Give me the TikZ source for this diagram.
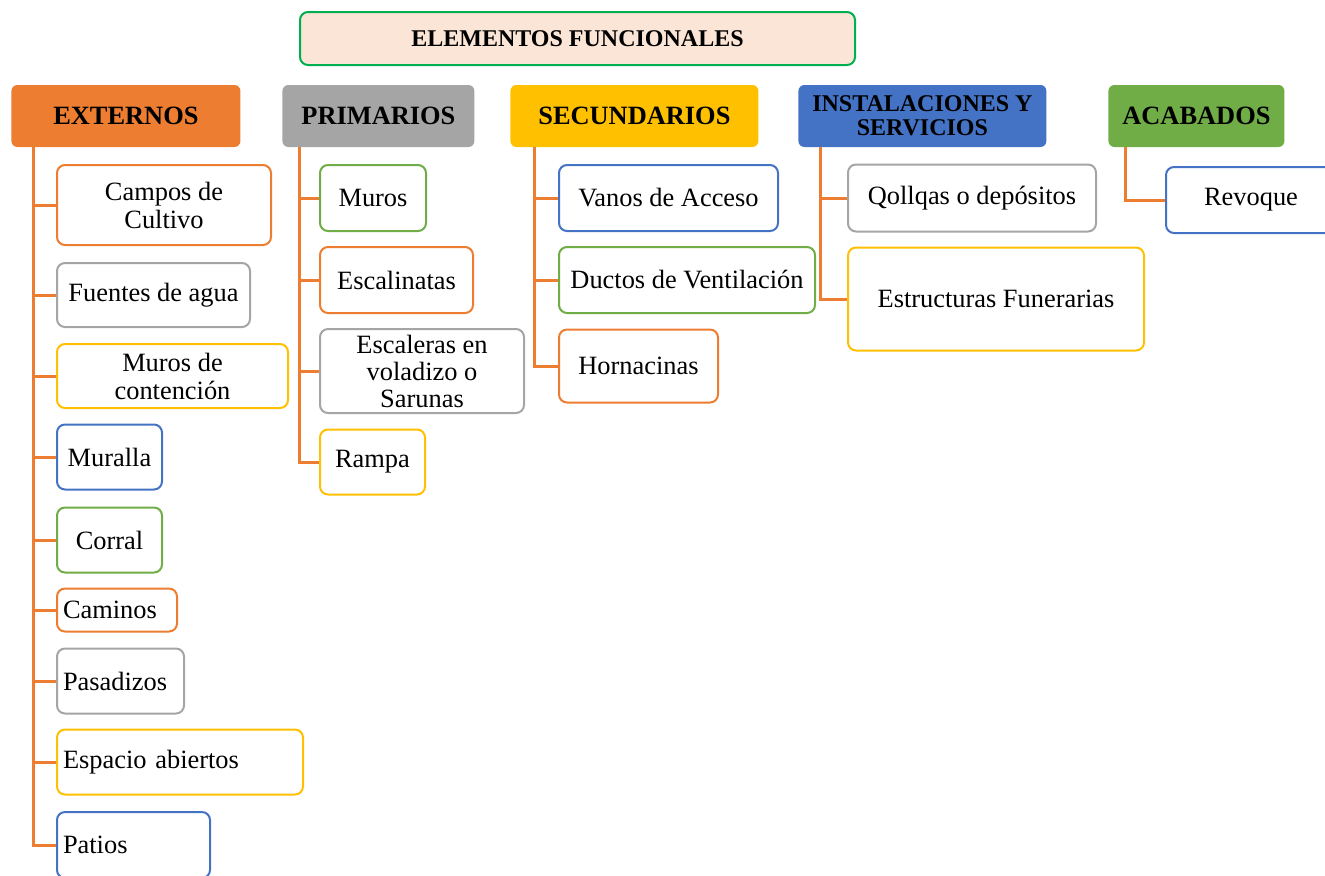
\documentclass[tikz,border=0pt]{standalone}
\usepackage{fontspec}
\setmainfont{Liberation Serif}
\usetikzlibrary{calc}

\definecolor{naranja}{HTML}{ED7D31}
\definecolor{gris}{HTML}{A5A5A5}
\definecolor{amarillo}{HTML}{FFC000}
\definecolor{azul}{HTML}{4472C4}
\definecolor{verde}{HTML}{70AD47}
\definecolor{verdetit}{HTML}{00B050}
\definecolor{durazno}{HTML}{FBE5D6}

\tikzset{
  cabeza/.style={fill=#1, rounded corners=3pt, minimum height=31pt, anchor=west,
    font=\bfseries\fontsize{13.2}{14}\selectfont, align=center, inner sep=2pt},
  hoja/.style={draw=#1, line width=1pt, rounded corners=4pt, fill=white, anchor=west,
    font=\fontsize{13.2}{14}\selectfont, align=center, inner xsep=3pt, inner ysep=2pt},
  hojaizq/.style={hoja=#1, align=left},
  rama/.style={draw=naranja, line width=1.5pt},
}

\begin{document}
\begin{tikzpicture}[x=1pt,y=-1pt]
  \useasboundingbox (0,0) rectangle (662.5,437.5);

  % titulo
  \node[draw=verdetit, fill=durazno, line width=1pt, rounded corners=4pt,
        minimum width=277.5pt, minimum height=26.5pt,
        font=\bfseries\fontsize{12}{13}\selectfont] (tit) at (288.75,19.25) {ELEMENTOS FUNCIONALES};

  % cabeceras
  \node[cabeza=naranja, minimum width=114.5pt] (ext) at (5.5,58) {EXTERNOS};
  \node[cabeza=gris, minimum width=96pt] (pri) at (141,58) {PRIMARIOS};
  \node[cabeza=amarillo, minimum width=124pt] (sec) at (255,58) {SECUNDARIOS};
  \node[cabeza=azul, minimum width=124pt, font=\bfseries\fontsize{12}{12}\selectfont] (ins) at (399,58) {INSTALACIONES Y\\SERVICIOS};
  \node[cabeza=verde, minimum width=88pt] (aca) at (554,58) {ACABADOS};

  % externos
  \node[hoja=naranja, minimum width=107pt, minimum height=40pt] (campos) at (28,102.5) {Campos de\\Cultivo};
  \node[hoja=gris, minimum width=96.5pt, minimum height=32pt] (fuentes) at (28,147.5) {Fuentes de agua};
  \node[hoja=amarillo, minimum width=115.5pt, minimum height=32pt] (contencion) at (28,188) {Muros de\\contención};
  \node[hoja=azul, minimum width=52.5pt, minimum height=32.5pt] (muralla) at (28,228.5) {Muralla};
  \node[hoja=verde, minimum width=52.5pt, minimum height=32.5pt] (corral) at (28,270) {Corral};
  \node[hojaizq=naranja, text width=54pt, minimum height=21.5pt] (caminos) at (28,305) {Caminos};
  \node[hojaizq=gris, text width=57.5pt, minimum height=32.5pt] (pasadizos) at (28,340.5) {Pasadizos};
  \node[hojaizq=amarillo, text width=117pt, minimum height=32.5pt] (espacio) at (28,381) {Espacio abiertos};
  \node[hojaizq=azul, text width=70.5pt, minimum height=33pt] (patios) at (28,422.5) {Patios};

  % primarios
  \node[hoja=verde, minimum width=53pt, minimum height=33pt] (muros) at (159.5,99) {Muros};
  \node[hoja=naranja, minimum width=76.5pt, minimum height=33pt] (escalinatas) at (159.5,140) {Escalinatas};
  \node[hoja=gris, minimum width=102pt, minimum height=42pt, font=\fontsize{13.2}{13.5}\selectfont] (escaleras) at (159.5,185.5) {Escaleras en\\voladizo o\\Sarunas};
  \node[hoja=amarillo, minimum width=52.5pt, minimum height=32.5pt] (rampa) at (159.5,231) {Rampa};

  % secundarios
  \node[hoja=azul, minimum width=109.5pt, minimum height=33pt] (vanos) at (279,99) {Vanos de Acceso};
  \node[hoja=verde, minimum width=128pt, minimum height=33pt] (ductos) at (279,140) {Ductos de Ventilación};
  \node[hoja=naranja, minimum width=79.5pt, minimum height=36.5pt] (hornacinas) at (279,183) {Hornacinas};

  % instalaciones y servicios
  \node[hoja=gris, minimum width=124pt, minimum height=33.5pt] (qollqas) at (423.5,99) {Qollqas o depósitos};
  \node[hoja=amarillo, minimum width=148pt, minimum height=51.5pt] (funerarias) at (423.5,149.5) {Estructuras Funerarias};

  % acabados
  \node[hoja=azul, minimum width=85pt, minimum height=33pt] (revoque) at (582.5,100) {Revoque};

  % ramas
  \draw[rama] ($(ext.south west)+(11,0)$) |- (campos.west);
  \draw[rama] ($(ext.south west)+(11,0)$) |- (fuentes.west);
  \draw[rama] ($(ext.south west)+(11,0)$) |- (contencion.west);
  \draw[rama] ($(ext.south west)+(11,0)$) |- (muralla.west);
  \draw[rama] ($(ext.south west)+(11,0)$) |- (corral.west);
  \draw[rama] ($(ext.south west)+(11,0)$) |- (caminos.west);
  \draw[rama] ($(ext.south west)+(11,0)$) |- (pasadizos.west);
  \draw[rama] ($(ext.south west)+(11,0)$) |- (espacio.west);
  \draw[rama] ($(ext.south west)+(11,0)$) |- (patios.west);

  \draw[rama] ($(pri.south west)+(8.5,0)$) |- (muros.west);
  \draw[rama] ($(pri.south west)+(8.5,0)$) |- (escalinatas.west);
  \draw[rama] ($(pri.south west)+(8.5,0)$) |- (escaleras.west);
  \draw[rama] ($(pri.south west)+(8.5,0)$) |- (rampa.west);

  \draw[rama] ($(sec.south west)+(12,0)$) |- (vanos.west);
  \draw[rama] ($(sec.south west)+(12,0)$) |- (ductos.west);
  \draw[rama] ($(sec.south west)+(12,0)$) |- (hornacinas.west);

  \draw[rama] ($(ins.south west)+(11,0)$) |- (qollqas.west);
  \draw[rama] ($(ins.south west)+(11,0)$) |- (funerarias.west);

  \draw[rama] ($(aca.south west)+(8.5,0)$) |- (revoque.west);
\end{tikzpicture}
\end{document}
